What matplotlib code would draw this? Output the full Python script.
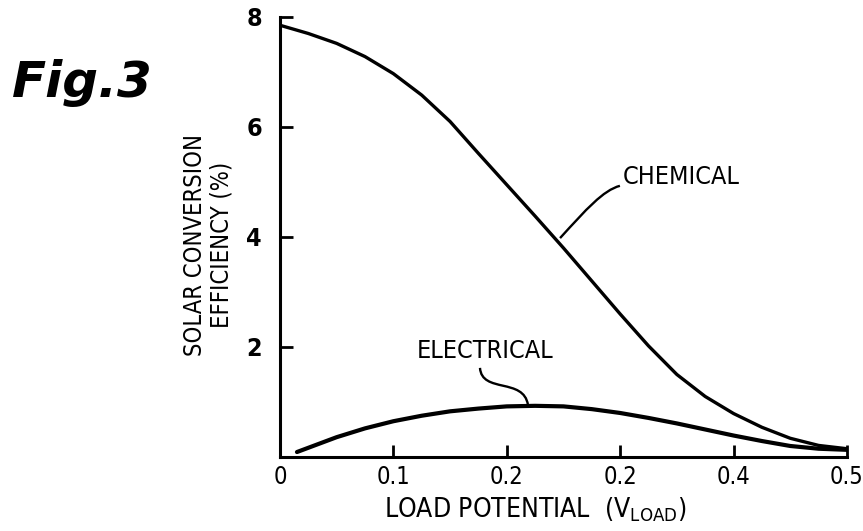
import matplotlib.pyplot as plt
from matplotlib.path import Path
from matplotlib.patches import PathPatch

# values
chem_x = [0.0, 0.025, 0.05, 0.075, 0.1, 0.125, 0.15, 0.175, 0.2, 0.225, 0.25,
          0.275, 0.3, 0.325, 0.35, 0.375, 0.4, 0.425, 0.45, 0.475, 0.5]
chem_y = [7.85, 7.7, 7.52, 7.28, 6.97, 6.58, 6.1, 5.52, 4.95, 4.38, 3.8,
          3.2, 2.6, 2.02, 1.5, 1.1, 0.79, 0.54, 0.34, 0.21, 0.15]

elec_x = [0.015, 0.05, 0.075, 0.1, 0.125, 0.15, 0.175, 0.2, 0.225, 0.25,
          0.275, 0.3, 0.325, 0.35, 0.375, 0.4, 0.425, 0.45, 0.475, 0.5]
elec_y = [0.09, 0.36, 0.52, 0.65, 0.75, 0.83, 0.88, 0.92, 0.93, 0.92,
          0.87, 0.8, 0.71, 0.61, 0.5, 0.39, 0.29, 0.2, 0.15, 0.13]

xticks = [0, 0.1, 0.2, 0.3, 0.4, 0.5]
xtick_labels = ['0', '0.1', '0.2', '0.2', '0.4', '0.5']
yticks = [2, 4, 6, 8]

fnt = dict(family='DejaVu Sans', stretch='condensed')

fig = plt.figure(figsize=(8.63, 5.31), dpi=100)
ax = fig.add_axes([0.3244, 0.1394, 0.657, 0.8286])

ax.plot(chem_x, chem_y, color='black', lw=2.4, solid_capstyle='round',
        solid_joinstyle='round')
ax.plot(elec_x, elec_y, color='black', lw=3.0, solid_capstyle='round',
        solid_joinstyle='round')

ax.set_xlim(0, 0.5)
ax.set_ylim(0, 8)
ax.spines['top'].set_visible(False)
ax.spines['right'].set_visible(False)
for s in ['left', 'bottom']:
    ax.spines[s].set_linewidth(2.2)

ax.set_xticks(xticks)
ax.set_xticklabels(xtick_labels, fontsize=17, **fnt)
ax.set_yticks(yticks)
ax.set_yticklabels([str(v) for v in yticks], fontsize=18, fontweight='bold', **fnt)
ax.tick_params(direction='in', length=9, width=2)
ax.tick_params(axis='x', pad=6)
ax.tick_params(axis='y', pad=13)

# axis titles
fig.text(535 / 863, 1 - 510 / 531, 'LOAD POTENTIAL  (V$_{\\mathregular{LOAD}}$)',
         fontsize=19, ha='center', va='center', **fnt)
fig.text(208 / 863, 1 - 245 / 531, 'SOLAR CONVERSION\nEFFICIENCY (%)',
         fontsize=17, rotation=90, ha='center', va='center', linespacing=1.15,
         **fnt)

# curve labels with leader lines
ax.text(0.3025, 5.09, 'CHEMICAL', fontsize=18, ha='left', va='center', **fnt)
ax.text(0.1208, 1.93, 'ELECTRICAL', fontsize=18, ha='left', va='center', **fnt)

chem_lead = Path([(0.2998, 4.93), (0.285, 4.85), (0.27, 4.5), (0.247, 3.98)],
                 [Path.MOVETO, Path.CURVE4, Path.CURVE4, Path.CURVE4])
elec_lead = Path([(0.1764, 1.62), (0.178, 1.15), (0.215, 1.45), (0.2187, 0.945)],
                 [Path.MOVETO, Path.CURVE4, Path.CURVE4, Path.CURVE4])
for p in (chem_lead, elec_lead):
    ax.add_patch(PathPatch(p, fill=False, lw=1.7, edgecolor='black'))

fig.text(12 / 863, 1 - 97 / 531, 'Fig.3', fontsize=36, fontweight='bold',
         fontstyle='italic', family='DejaVu Sans', va='baseline')

fig.savefig('out.png', dpi=100)
